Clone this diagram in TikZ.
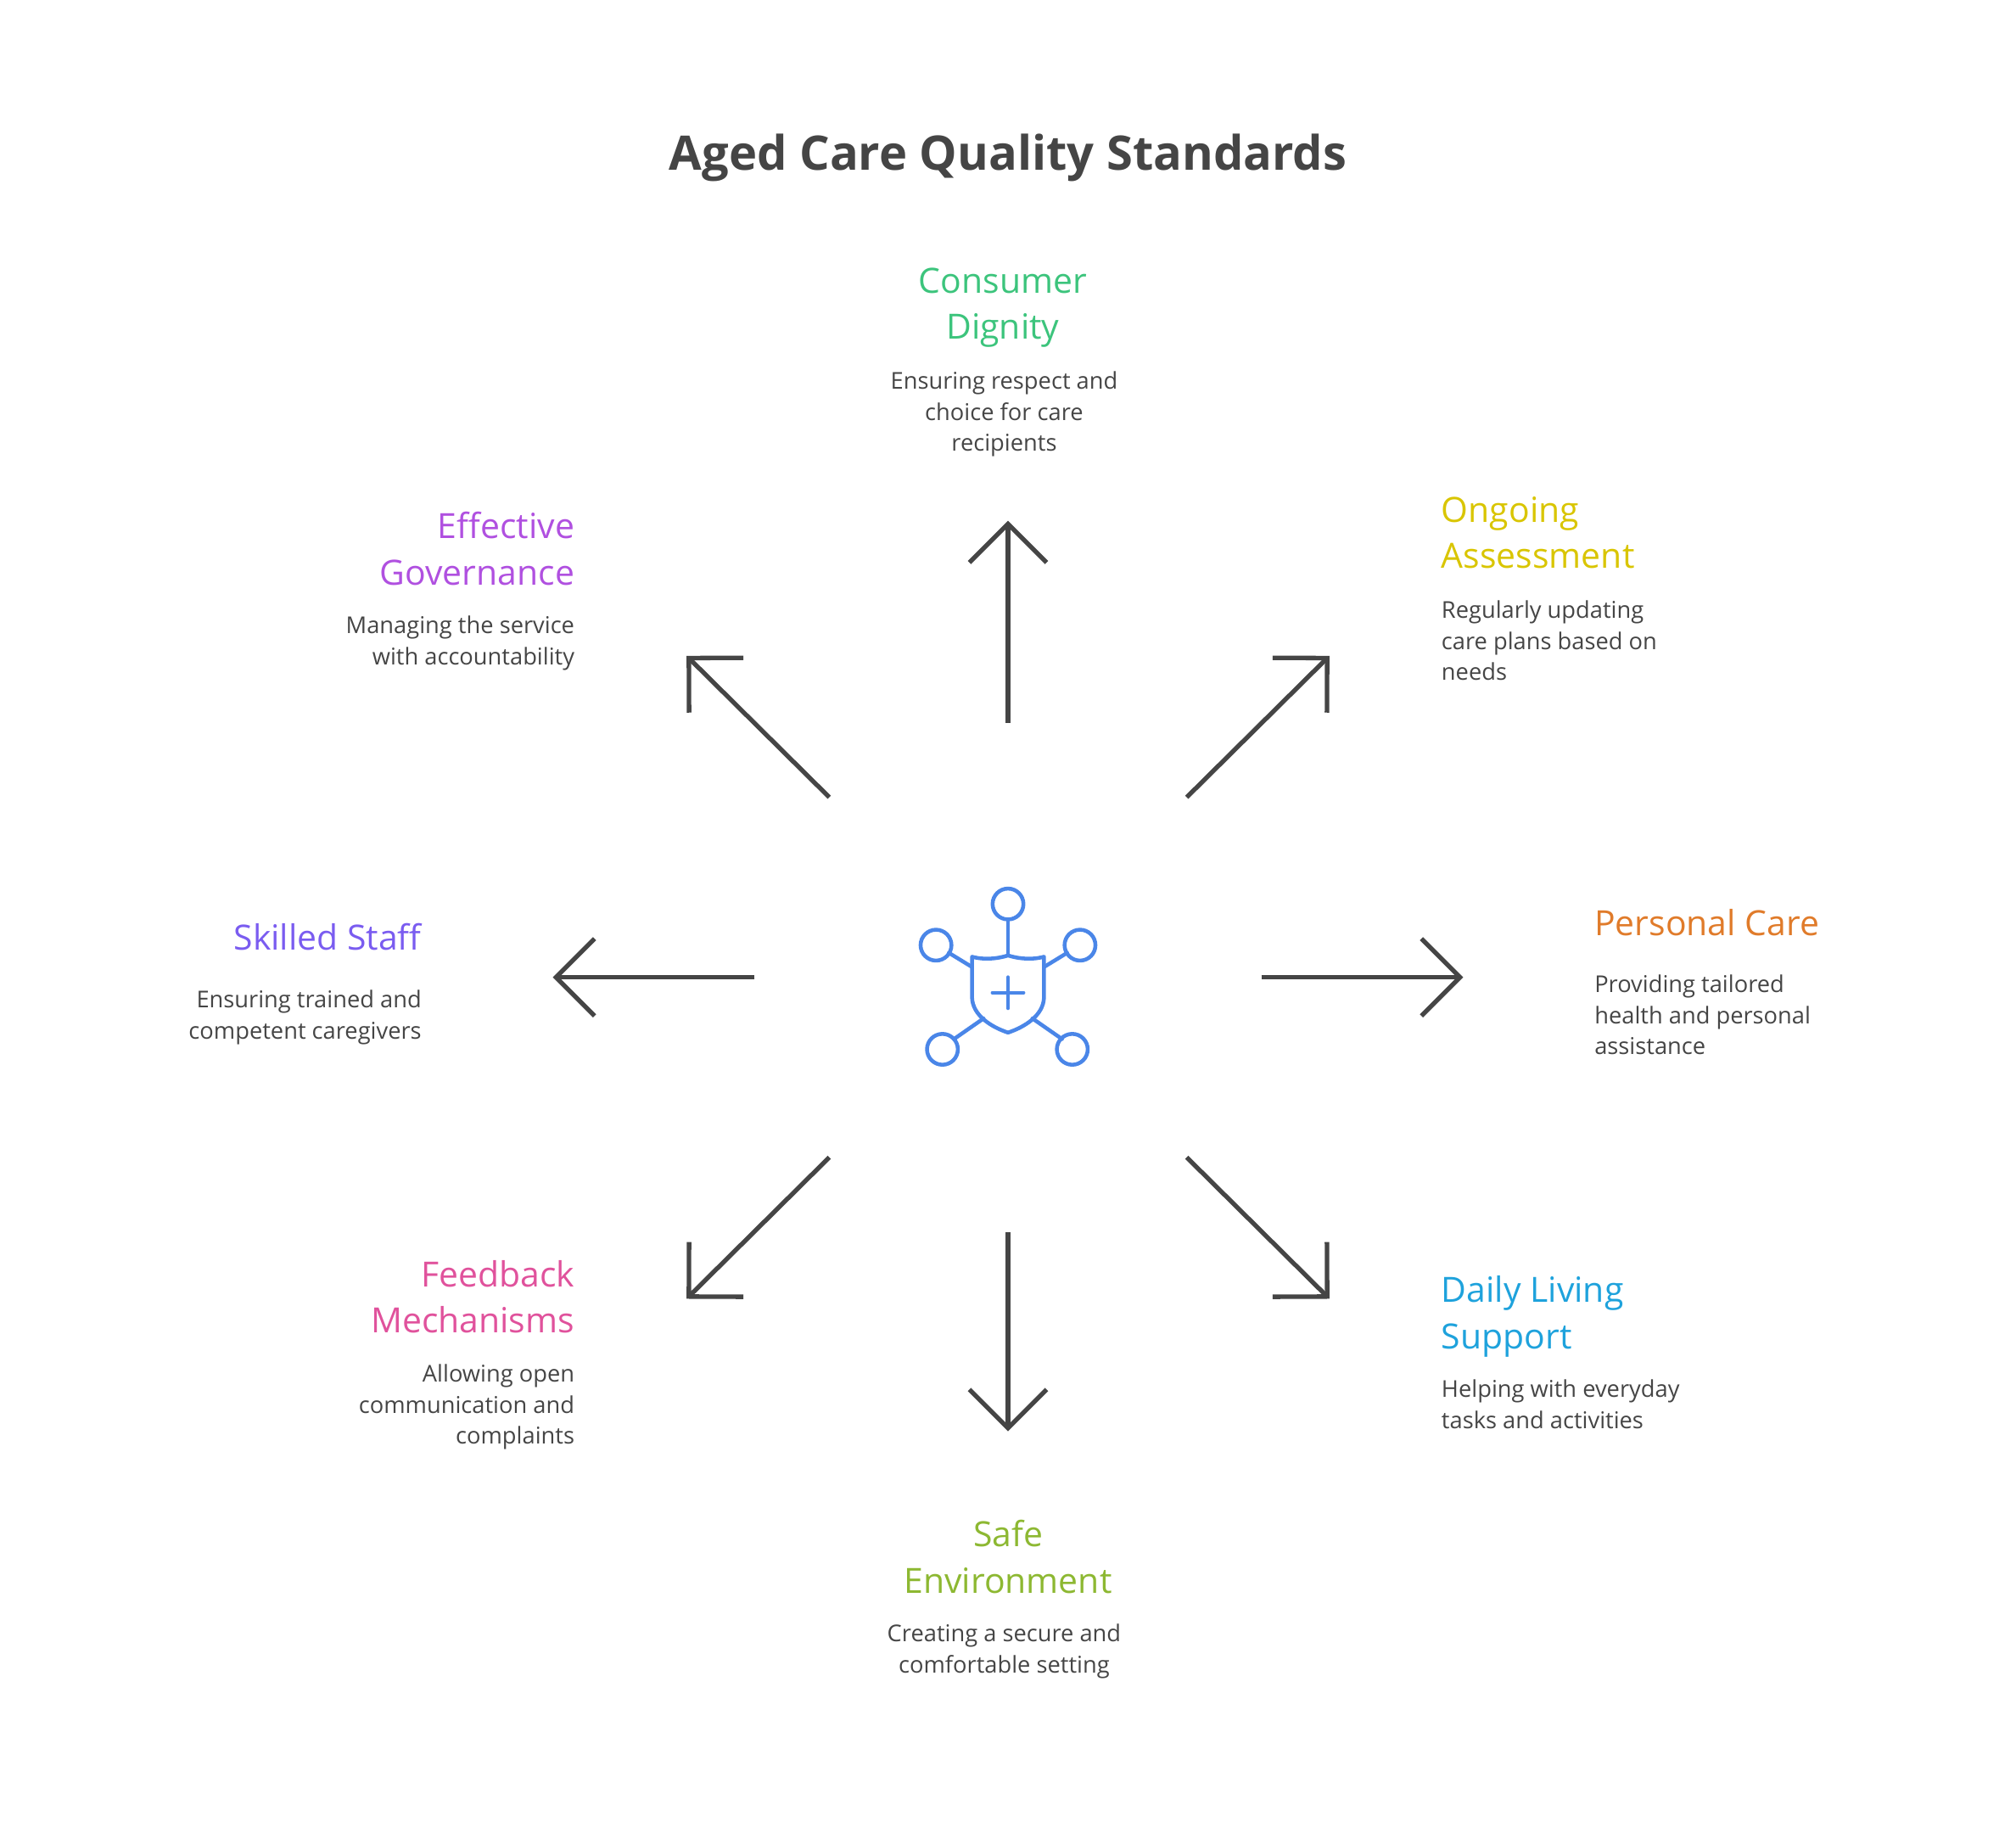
\documentclass[tikz,border=0pt]{standalone}
\usepackage{fontspec}
\setmainfont{Open Sans}
\usetikzlibrary{arrows.meta}
\definecolor{ink}{HTML}{454545}
\definecolor{cg}{HTML}{3CC47C}
\definecolor{cy}{HTML}{D9C500}
\definecolor{co}{HTML}{E07B2A}
\definecolor{cb}{HTML}{1EA2DC}
\definecolor{cl}{HTML}{8DB832}
\definecolor{cp}{HTML}{E0529C}
\definecolor{cv}{HTML}{7A5CF0}
\definecolor{cu}{HTML}{B050E0}
\definecolor{ic}{HTML}{4A86E8}
\begin{document}
\begin{tikzpicture}[x=1pt,y=-1pt,
 arr/.style={draw=ink,line width=3.5pt,-{Straight Barb[length=30pt,width=60pt,line width=3.5pt]}},
 head/.style={font=\fontsize{27}{36}\selectfont,inner sep=0pt,yshift=-6pt},
 desc/.style={font=\fontsize{18}{24}\selectfont,text=ink,inner sep=0pt,yshift=-5pt},
 L/.style={anchor=north west,align=left},
 R/.style={anchor=north east,align=right},
 C/.style={anchor=north,align=center}]
\useasboundingbox (0,0) rectangle (1568,1425);
\node[font=\fontsize{37}{44}\selectfont\bfseries,text=ink] (title) at (784,123) {Aged Care Quality Standards};
% arrows
\foreach \n/\a/\b/\c/\d in {u/784/562/784/405, d/784/958/784/1113, l/587/760/430/760, r/981/760/1138/760,
  ne/923/620/1034/510, nw/645/620/534/510, sw/645/900/534/1010, se/923/900/1034/1010}{
 \coordinate (s\n) at (\a,\b); \coordinate (e\n) at (\c,\d);
 \draw[arr] (s\n) -- (e\n);}
% labels
\node[head,C,text=cg] (h1) at (780,202) {Consumer\\Dignity};
\node[desc,C] (d1) at (781,284) {Ensuring respect and\\choice for care\\recipients};
\node[head,L,text=cy] (h2) at (1121,380) {Ongoing\\Assessment};
\node[desc,L] (d2) at (1121,462) {Regularly updating\\care plans based on\\needs};
\node[head,L,text=co] (h3) at (1240,701) {Personal Care};
\node[desc,L] (d3) at (1240,753) {Providing tailored\\health and personal\\assistance};
\node[head,L,text=cb] (h4) at (1121,986) {Daily Living\\Support};
\node[desc,L] (d4) at (1121,1068) {Helping with everyday\\tasks and activities};
\node[head,C,text=cl] (h5) at (784,1176) {Safe\\Environment};
\node[desc,C] (d5) at (781,1258) {Creating a secure and\\comfortable setting};
\node[head,R,text=cp] (h6) at (447,974) {Feedback\\Mechanisms};
\node[desc,R] (d6) at (447,1056) {Allowing open\\communication and\\complaints};
\node[head,R,text=cv] (h7) at (328,712) {Skilled Staff};
\node[desc,R] (d7) at (328,765) {Ensuring trained and\\competent caregivers};
\node[head,R,text=cu] (h8) at (447,392) {Effective\\Governance};
\node[desc,R] (d8) at (447,474) {Managing the service\\with accountability};
% icon
\begin{scope}[draw=ic,line width=3pt,line cap=round,line join=round]
\draw (784,743) .. controls (800,748) and (812,744) .. (812,744) -- (812,775)
  .. controls (812,790) and (796,799) .. (784,803) .. controls (772,799) and (756,790) .. (756,775) -- (756,744)
  .. controls (756,744) and (768,748) .. (784,743) -- cycle;
\draw (784,760) -- (784,784) (772,772) -- (796,772);
\draw (784,743) -- (784,715);
\draw (812,752) -- (830,741); \draw (756,752) -- (738,741);
\draw (765,792) -- (742,808); \draw (803,792) -- (826,808);
\node[circle,draw=ic,line width=3pt,minimum size=24pt,inner sep=0pt] (c1) at (784,703) {};
\node[circle,draw=ic,line width=3pt,minimum size=24pt,inner sep=0pt] (c2) at (728,735) {};
\node[circle,draw=ic,line width=3pt,minimum size=24pt,inner sep=0pt] (c3) at (840,735) {};
\node[circle,draw=ic,line width=3pt,minimum size=24pt,inner sep=0pt] (c4) at (733,816) {};
\node[circle,draw=ic,line width=3pt,minimum size=24pt,inner sep=0pt] (c5) at (834,816) {};
\end{scope}
\end{tikzpicture}
\end{document}
